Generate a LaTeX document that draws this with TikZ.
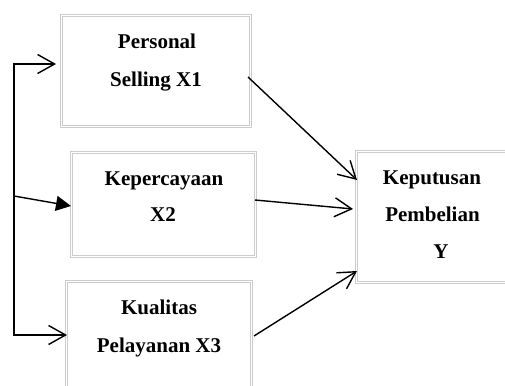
\documentclass[tikz,border=0pt]{standalone}
\usepackage{fontspec}
\setmainfont{Liberation Serif}
\usetikzlibrary{arrows.meta}
\begin{document}
\begin{tikzpicture}[x=1pt,y=-1pt,
  box/.style={draw=black!20, double=white, double distance=1.8pt, line width=1pt},
  lbl/.style={anchor=base, inner sep=0pt, font=\fontsize{21}{25}\selectfont\bfseries},
  conn/.style={line width=1.4pt, black},
  barb/.style={-{Straight Barb[length=17pt,width=19pt,line width=1.4pt]}},
  tri/.style={-{Triangle[length=15pt,width=15pt]}}]
\useasboundingbox (0,0) rectangle (505,385);
% boxes
\draw[box] (61.5,15.5) rectangle (250.5,126.5);
\draw[box] (71.5,152.5) rectangle (255.5,256.5);
\draw[box] (66.5,281.5) rectangle (251.5,400);
\draw[box] (356.5,151.5) rectangle (520,282.5);
% texts
\node[lbl] (t1a) at (157,49) {Personal};
\node[lbl] (t1b) at (156,87) {Selling X1};
\node[lbl] (t2a) at (164,185) {Kepercayaan};
\node[lbl] (t2b) at (163,221) {X2};
\node[lbl] (t3a) at (159,314) {Kualitas};
\node[lbl] (t3b) at (159,352) {Pelayanan X3};
\node[lbl] (t4a) at (432,184) {Keputusan};
\node[lbl] (t4b) at (432.5,221) {Pembelian};
\node[lbl] (t4c) at (441,258) {Y};
% connector points
\coordinate (top) at (14,64);
\coordinate (mid) at (14,196);
\coordinate (bot) at (14,335);
\coordinate (in1) at (56,64);
\coordinate (in2) at (71,206);
\coordinate (in3) at (67,335);
\coordinate (o1) at (248,77);
\coordinate (o2) at (255,200);
\coordinate (o3) at (254,336);
\coordinate (y1) at (357,180);
\coordinate (y2) at (353,209);
\coordinate (y3) at (357,271);
% left bracket
\draw[conn, line cap=rect] (top) -- (bot);
\draw[conn, barb] (top) -- (in1);
\draw[conn, barb] (bot) -- (in3);
\draw[conn, tri] (mid) -- (in2);
% right arrows
\draw[conn, barb] (o1) -- (y1);
\draw[conn, barb] (o2) -- (y2);
\draw[conn, barb] (o3) -- (y3);
\end{tikzpicture}
\end{document}
